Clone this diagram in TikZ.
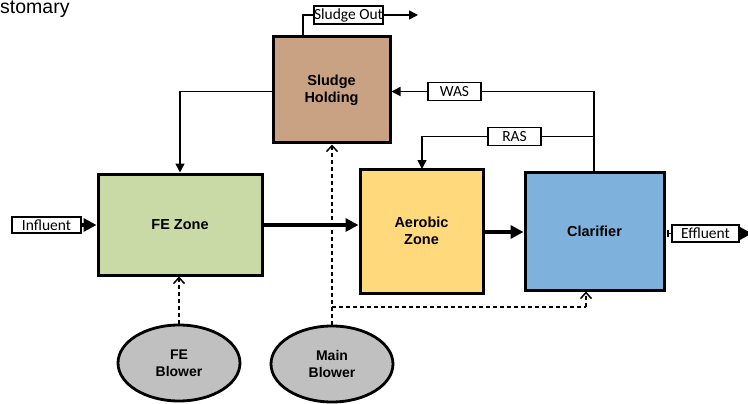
\documentclass[tikz,border=0pt]{standalone}
\usepackage{fontspec}
\setmainfont{Liberation Sans}
\newfontfamily\tagfont{Carlito}
\usetikzlibrary{arrows.meta,shapes.geometric}

\definecolor{fegreen}{HTML}{C9DAA6}
\definecolor{sludgebrown}{HTML}{C9A183}
\definecolor{aerogold}{HTML}{FFD97C}
\definecolor{clarblue}{HTML}{7EB2DC}
\definecolor{blowergray}{HTML}{C0C0C0}

\tikzset{
  unit/.style={draw=black, line width=3pt, inner sep=0pt, align=center,
    font=\fontsize{14.5}{17}\selectfont\bfseries},
  blower/.style={ellipse, draw=black, line width=2.8pt, fill=blowergray,
    minimum width=122pt, minimum height=76pt, inner sep=0pt, align=center,
    font=\fontsize{14}{17}\selectfont\bfseries},
  tag/.style={draw=black, line width=1.3pt, fill=white, inner sep=0pt,
    font=\tagfont\fontsize{15.5}{17}\selectfont},
  thin/.style={line width=1.5pt, -{Triangle[length=9pt,width=9pt]}},
  plain/.style={line width=1.5pt},
  heavy/.style={line width=3.5pt, -{Triangle[length=13pt,width=13pt]}},
  air/.style={line width=1.5pt, dash pattern=on 4pt off 3pt,
    -{Straight Barb[length=6pt,width=11pt,line width=1.5pt]}},
  airline/.style={line width=1.5pt, dash pattern=on 4pt off 3pt},
}

\begin{document}
\begin{tikzpicture}[x=1pt,y=-1pt]
\useasboundingbox (0,0) rectangle (748,404);

% caption fragment
\node[anchor=base west, inner sep=0pt, font=\fontsize{19.5}{21}\selectfont] (cap) at (0,14) {stomary};

% process units
\node[unit, fill=sludgebrown, minimum width=117pt, minimum height=106pt] (hold) at (331.5,90) {Sludge\\Holding};
\node[unit, fill=fegreen, minimum width=164pt, minimum height=101pt] (fe) at (180,224.5) {FE Zone};
\node[unit, fill=aerogold, minimum width=123pt, minimum height=124pt] (aero) at (421.5,231) {Aerobic\\Zone};
\node[unit, fill=clarblue, minimum width=139pt, minimum height=118pt] (clar) at (594.5,231) {Clarifier};

% blowers
\node[blower] (feblow) at (179,363) {FE\\Blower};
\node[blower] (mainblow) at (332,364) {Main\\Blower};

% stream tags
\node[tag, minimum width=69pt, minimum height=18pt] (sout) at (348.5,15) {Sludge Out};
\node[tag, minimum width=53pt, minimum height=18pt] (was) at (454.5,91.5) {WAS};
\node[tag, minimum width=53pt, minimum height=18pt] (ras) at (514.5,136.5) {RAS};
\node[tag, minimum width=69pt, minimum height=16pt] (inf) at (46.5,225) {Influent};
\node[tag, minimum width=67pt, minimum height=17pt] (eff) at (705.5,233.5) {Effluent};

% helper points
\coordinate (soutend) at (418,15);
\coordinate (rasjoin) at (594,136.5);
\coordinate (airsplit) at (332,307);
\coordinate (effstub) at (667,233.5);
\coordinate (effend) at (752,233.5);

% sludge handling
\draw[plain] (303,37) |- (sout.west);
\draw[thin] (sout.east) -- (soutend);
\draw[plain] (clar.north -| rasjoin) |- (was.east);
\draw[thin] (was.west) -- (hold.east |- was.west);
\draw[plain] (rasjoin) -- (ras.east);
\draw[thin] (ras.west) -| (422,169);
\draw[thin] (hold.west |- was.west) -| (fe.north -| 180,0);

% main process flow
\draw[heavy] (inf.east) -- (fe.west |- inf.east);
\draw[heavy] (fe.east |- 0,225) -- (aero.west |- 0,225);
\draw[heavy] (aero.east |- 0,232) -- (clar.west |- 0,232);
\draw[line width=1.6pt, {Bar[width=7pt,line width=1.6pt]}-] (effstub) -- (eff.west);
\draw[heavy] (eff.east) -- (effend);

% aeration air
\draw[air] (feblow.north) -- (fe.south -| feblow.north);
\draw[air] (mainblow.north) -- (hold.south -| mainblow.north);
\draw[airline] (airsplit) -- (586,307);
\draw[air] (586,307) -- (clar.south -| 586,0);
\end{tikzpicture}
\end{document}
